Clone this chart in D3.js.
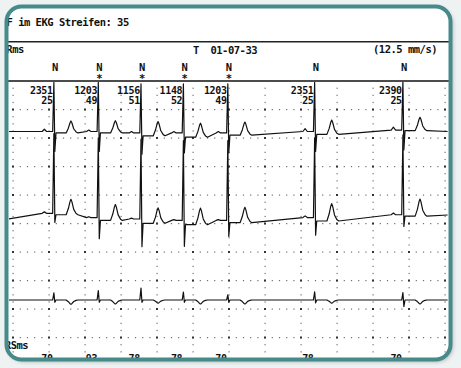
<!DOCTYPE html>
<html>
<head>
<meta charset="utf-8">
<script src="https://cdn.jsdelivr.net/npm/d3@7"></script>
<style>
  html, body { margin: 0; padding: 0; background: #eef2f2; }
  svg { display: block; }
  text { font-family: "DejaVu Sans Mono", monospace; font-weight: bold; font-size: 10.5px; letter-spacing: -0.5px; fill: #111; }
  text.num { font-size: 10px; letter-spacing: -0.3px; }
</style>
</head>
<body>
<svg id="ekg" width="461" height="368"></svg>
<script>
// beat annotations
const rrMs = [2351, 1203, 1156, 1148, 1203, 2351, 2390];
const hrBpm = [25, 49, 51, 52, 49, 25, 25];
const qrsMs = [70, 93, 78, 78, 70, 78, 70];
const beatType = ["N", "N", "N", "N", "N", "N", "N"];
const beatMark = ["", "*", "*", "*", "*", "", ""];

// lead amplitudes per beat (1 unit = one grid row)
const lead1Base = [0, 0, -0.05, -0.05, -0.05, 0, 0.05];
const lead1P = [0.08, 0.05, 0.05, 0.05, 0.05, 0.1, 0.1];
const lead1R = [1.72, 1.72, 1.72, 1.72, 1.72, 1.72, 1.72];
const lead1S = [-0.7, -0.7, -0.75, -0.7, -0.7, -0.7, -0.7];
const lead1St = [-0.05, -0.05, -0.1, -0.15, -0.08, -0.1, -0.02];
const lead1T = [0.42, 0.43, 0.5, 0.49, 0.46, 0.5, 0.47];

const lead2Base = [0.2, 0.05, 0, -0.05, -0.05, 0.05, 0.15];
const lead2P = [0.05, 0.03, 0.03, 0.03, 0.03, 0.06, 0.06];
const lead2R = [2.8, 2.8, 2.8, 2.8, 2.8, 2.8, 2.8];
const lead2S = [-0.32, -0.74, -0.97, -0.91, -0.56, -0.62, -0.41];
const lead2St = [-0.05, -0.1, -0.15, -0.15, -0.08, -0.12, -0.05];
const lead2T = [0.54, 0.56, 0.54, 0.58, 0.54, 0.61, 0.6];

const lead3Base = [0, 0, 0, 0, 0, 0, 0];
const lead3P = [0, 0, 0, 0, 0, 0, 0];
const lead3R = [0.25, 0.33, 0.42, 0.28, 0.18, 0.29, 0.26];
const lead3S = [-0.08, -0.08, -0.08, -0.08, -0.08, -0.1, -0.23];
const lead3St = [0, 0, 0, 0, 0, 0, 0];
const lead3T = [-0.15, -0.14, -0.11, -0.14, -0.14, -0.11, -0.14];

// T wave outline (ms after R, fraction of T height)
const tShape = [[320, 0], [380, 0.4], [425, 0.85], [450, 1], [475, 0.85], [525, 0.35], [590, 0.08], [640, 0]];

const svg = d3.select("#ekg");

// beat times from the RR intervals
const beatTimes = d3.cumsum(rrMs);
const x = d3.scaleLinear().domain([0, 13000]).range([-32.5, 447.6]);
const gridX = d3.scaleLinear().domain([0, 12]).range([13, 445]);
const gridY = d3.scaleLinear().domain([0, 10]).range([81, 366]);

const frame = { x: 6.5, y: 6.5, w: 444, h: 353, r: 15 };

const defs = svg.append("defs");
defs.append("clipPath").attr("id", "inner")
  .append("rect").attr("x", frame.x).attr("y", frame.y).attr("width", frame.w).attr("height", frame.h).attr("rx", frame.r);
defs.append("clipPath").attr("id", "plot")
  .append("rect").attr("x", 9).attr("y", 82).attr("width", 440).attr("height", 276);
const shadow = defs.append("filter").attr("id", "shadow")
  .attr("x", "-5%").attr("y", "-5%").attr("width", "110%").attr("height", "110%");
shadow.append("feDropShadow").attr("dx", 2).attr("dy", 2).attr("stdDeviation", 2)
  .attr("flood-color", "#000").attr("flood-opacity", 0.3);

svg.append("rect")
  .attr("x", frame.x).attr("y", frame.y).attr("width", frame.w).attr("height", frame.h).attr("rx", frame.r)
  .attr("fill", "#fff").attr("filter", "url(#shadow)");

const g = svg.append("g").attr("clip-path", "url(#inner)");

// dotted grid
const grid = g.append("g").attr("fill", "#333");
const cols = d3.range(0, 13);
const rows = d3.range(1, 10);
grid.selectAll("rect.rowdot")
  .data(rows.flatMap(r => d3.range(0, 61).map(k => [k / 5, r])))
  .join("rect").attr("class", "rowdot")
  .attr("x", d => gridX(d[0]) - 0.5).attr("y", d => gridY(d[1]) - 0.5)
  .attr("width", 1.2).attr("height", 1.2).attr("opacity", 0.7);
grid.selectAll("rect.coldot")
  .data(cols.flatMap(c => d3.range(1, 40).map(k => [c, k / 4])))
  .join("rect").attr("class", "coldot")
  .attr("x", d => gridX(d[0]) - 0.5).attr("y", d => gridY(d[1]) - 0.5)
  .attr("width", 1.2).attr("height", 1.2).attr("opacity", 0.7);
grid.selectAll("rect.major")
  .data(cols.flatMap(c => rows.map(r => [c, r])))
  .join("rect").attr("class", "major")
  .attr("x", d => gridX(d[0]) - 1).attr("y", d => gridY(d[1]) - 1)
  .attr("width", 2).attr("height", 2);

// header
g.append("text").attr("x", 6.5).attr("y", 26).text("F im EKG Streifen: 35");
g.append("line").attr("x1", 0).attr("x2", 461).attr("y1", 41.8).attr("y2", 41.8)
  .attr("stroke", "#222").attr("stroke-width", 1.6);
g.append("text").attr("x", 0.5).attr("y", 53).text("RRms");
g.append("text").attr("x", 193).attr("y", 54).attr("xml:space", "preserve").text("T  01-07-33");
g.append("text").attr("x", 373).attr("y", 53).text("(12.5 mm/s)");
g.append("line").attr("x1", 0).attr("x2", 461).attr("y1", 81).attr("y2", 81)
  .attr("stroke", "#111").attr("stroke-width", 1.5);

g.selectAll("text.type").data(beatTimes).join("text").attr("class", "type")
  .attr("x", d => x(d) + 0.5).attr("y", 71).attr("text-anchor", "middle")
  .text((d, i) => beatType[i]);
g.selectAll("text.mark").data(beatTimes).join("text").attr("class", "mark")
  .attr("x", d => x(d) + 0.5).attr("y", 82).attr("text-anchor", "middle")
  .text((d, i) => beatMark[i]);
g.selectAll("text.rr").data(beatTimes).join("text").attr("class", "rr num")
  .attr("x", d => x(d) - 1.5).attr("y", 94).attr("text-anchor", "end")
  .text((d, i) => rrMs[i]);
g.selectAll("text.hr").data(beatTimes).join("text").attr("class", "hr num")
  .attr("x", d => x(d) - 1.5).attr("y", 103.5).attr("text-anchor", "end")
  .text((d, i) => hrBpm[i]);
g.append("text").attr("x", -1).attr("y", 349).text("QRSms");
g.selectAll("text.qrs").data(beatTimes).join("text").attr("class", "qrs num")
  .attr("x", d => x(d) - 1.5).attr("y", 361.5).attr("text-anchor", "end")
  .text((d, i) => qrsMs[i]);

// traces
function leadPoints(L) {
  const pts = [[1100, 0]];
  beatTimes.forEach((t, i) => {
    const b = L.base[i], st = b + L.st[i];
    pts.push([t - 330, b], [t - 270, b + L.p[i]], [t - 210, b], [t - 45, b],
      [t - 12, b + L.r[i]], [t + 14, b + L.s[i]], [t + 45, st]);
    tShape.forEach(([dt, f]) => pts.push([t + dt, st + f * L.t[i]]));
  });
  pts.push([13000, L.tail]);
  return pts;
}

const leads = [
  { mid: 131.5, base: lead1Base, p: lead1P, r: lead1R, s: lead1S, st: lead1St, t: lead1T, tail: 0 },
  { mid: 219, base: lead2Base, p: lead2P, r: lead2R, s: lead2S, st: lead2St, t: lead2T, tail: 0.14 },
  { mid: 300, base: lead3Base, p: lead3P, r: lead3R, s: lead3S, st: lead3St, t: lead3T, tail: 0 }
];

const traces = g.append("g").attr("clip-path", "url(#plot)");
leads.forEach(L => {
  const y = d3.scaleLinear().domain([0, 1]).range([L.mid, L.mid - 28.5]);
  traces.append("path")
    .datum(leadPoints(L))
    .attr("fill", "none")
    .attr("stroke", "#111")
    .attr("stroke-width", 1.2)
    .attr("stroke-linejoin", "round")
    .attr("d", d3.line().x(d => x(d[0])).y(d => y(d[1])));
});

// frame
svg.append("rect")
  .attr("x", frame.x).attr("y", frame.y).attr("width", frame.w).attr("height", frame.h).attr("rx", frame.r)
  .attr("fill", "none").attr("stroke", "#468a89").attr("stroke-width", 4);
</script>
</body>
</html>
